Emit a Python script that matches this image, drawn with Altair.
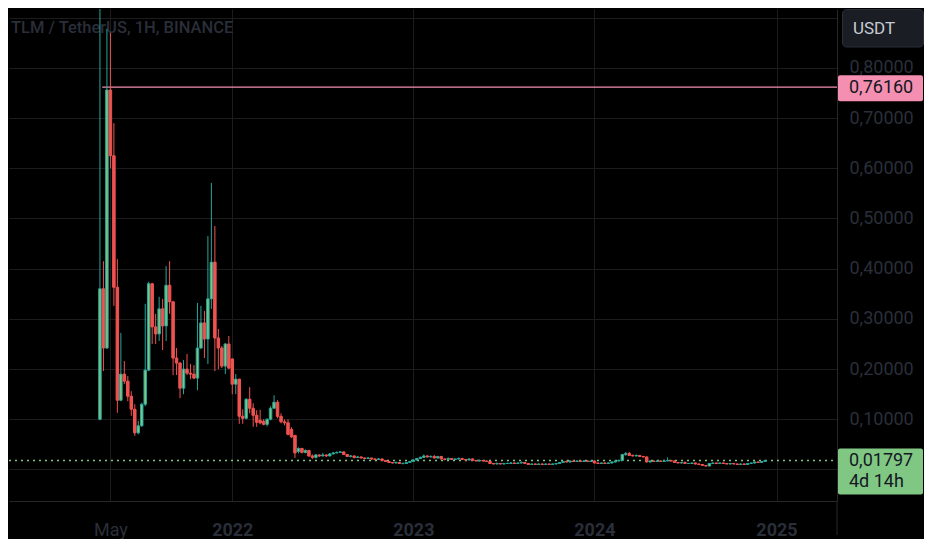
import altair as alt
import pandas as pd

# ---------------- data (weekly candles) ----------------
first_week = "2021-04-12"

opens = [
    .100, .360, .242, .756, .625, .363, .138, .190, .176, .146,
    .120, .073, .087, .130, .198, .370, .284, .270, .320, .286,
    .367, .334, .222, .212, .162, .200, .192, .190, .182, .242,
    .292, .260, .340, .413, .262, .242, .206, .250, .220, .170,
    .180, .106, .102, .140, .122, .108, .098, .096, .090, .100,
    .122, .134, .106, .095, .093, .080, .068, .036, .042, .034,
    .038, .027, .024, .029, .027, .029, .027, .031, .033, .034,
    .035, .030, .026, .027, .024, .025, .023, .022, .023, .021,
    .020, .021, .018, .016, .014, .013, .014, .012, .012, .014,
    .016, .019, .022, .024, .027, .025, .026, .023, .026, .021,
    .020, .022, .020, .021, .022, .020, .019, .021, .018, .017,
    .018, .017, .016, .012, .011, .012, .011, .012, .012, .013,
    .012, .013, .014, .012, .010, .011, .010, .011, .010, .011,
    .010, .011, .012, .014, .016, .015, .017, .016, .017, .016,
    .017, .016, .017, .013, .012, .013, .012, .013, .015, .017,
    .018, .030, .032, .028, .027, .028, .026, .025, .015, .017,
    .016, .017, .016, .017, .018, .017, .014, .013, .014, .012,
    .012, .013, .011, .010, .008, .007, .012, .013, .012, .013,
    .012, .011, .012, .011, .010, .011, .010, .012, .013, .015,
    .014, .016,
]
highs = [
    .980, .415, .878, .870, .690, .419, .272, .216, .186, .156,
    .130, .097, .133, .330, .374, .372, .310, .344, .340, .405,
    .415, .336, .242, .214, .218, .230, .210, .208, .332, .326,
    .316, .465, .571, .485, .280, .246, .252, .266, .222, .190,
    .180, .120, .142, .164, .132, .118, .119, .100, .102, .126,
    .148, .138, .112, .100, .100, .084, .068, .044, .043, .040,
    .039, .030, .031, .030, .033, .030, .033, .035, .036, .037,
    .036, .031, .029, .028, .027, .026, .024, .025, .023, .022,
    .023, .022, .019, .017, .015, .016, .015, .014, .015, .017,
    .020, .023, .026, .030, .028, .028, .029, .027, .027, .022,
    .024, .023, .022, .024, .023, .021, .022, .022, .019, .020,
    .019, .018, .017, .013, .014, .013, .013, .014, .015, .014,
    .014, .016, .015, .013, .012, .012, .012, .012, .012, .012,
    .012, .013, .015, .017, .018, .018, .018, .018, .018, .019,
    .018, .018, .018, .014, .014, .014, .014, .016, .018, .020,
    .031, .035, .035, .030, .030, .029, .027, .026, .018, .018,
    .018, .018, .018, .024, .019, .018, .015, .015, .016, .013,
    .014, .014, .012, .011, .009, .013, .014, .014, .014, .014,
    .013, .013, .013, .012, .012, .012, .013, .014, .016, .016,
    .017, .019,
]
lows = [
    .098, .196, .240, .600, .326, .113, .136, .170, .136, .107,
    .067, .070, .085, .126, .196, .250, .250, .256, .238, .256,
    .310, .188, .188, .142, .150, .188, .180, .180, .158, .240,
    .222, .210, .320, .196, .200, .202, .190, .200, .150, .150,
    .091, .091, .100, .112, .085, .085, .090, .088, .086, .098,
    .122, .102, .092, .088, .068, .063, .023, .032, .032, .032,
    .025, .021, .022, .025, .026, .025, .026, .030, .032, .033,
    .029, .025, .024, .022, .023, .022, .020, .021, .019, .018,
    .019, .017, .015, .013, .012, .012, .011, .010, .011, .013,
    .015, .018, .021, .023, .024, .024, .022, .022, .020, .018,
    .019, .019, .019, .020, .019, .018, .018, .017, .016, .016,
    .016, .015, .011, .010, .010, .010, .010, .011, .011, .011,
    .011, .012, .011, .009, .009, .009, .009, .009, .009, .009,
    .009, .010, .011, .013, .014, .014, .015, .015, .015, .015,
    .015, .015, .012, .011, .011, .011, .011, .012, .014, .016,
    .017, .027, .027, .026, .026, .025, .024, .014, .014, .015,
    .015, .015, .015, .016, .016, .013, .012, .012, .011, .011,
    .011, .010, .009, .007, .006, .006, .011, .011, .011, .011,
    .010, .010, .010, .009, .009, .009, .009, .011, .012, .013,
    .013, .015,
]
closes = [
    .360, .242, .756, .625, .363, .138, .190, .176, .146, .120,
    .073, .087, .130, .198, .370, .284, .270, .320, .286, .367,
    .334, .222, .212, .162, .200, .192, .190, .182, .242, .292,
    .260, .340, .413, .262, .242, .206, .250, .202, .170, .180,
    .106, .102, .140, .122, .108, .094, .093, .090, .100, .122,
    .134, .106, .095, .093, .070, .065, .033, .042, .034, .038,
    .027, .024, .029, .027, .029, .027, .031, .033, .034, .035,
    .030, .026, .027, .024, .025, .023, .022, .023, .021, .020,
    .021, .018, .016, .014, .013, .014, .012, .012, .014, .016,
    .019, .022, .024, .027, .025, .026, .023, .026, .021, .020,
    .022, .020, .021, .022, .020, .019, .021, .018, .017, .018,
    .017, .016, .012, .011, .012, .011, .012, .012, .013, .012,
    .013, .014, .012, .010, .011, .010, .011, .010, .011, .010,
    .011, .012, .014, .016, .015, .017, .016, .017, .016, .017,
    .016, .017, .013, .012, .013, .012, .013, .015, .017, .018,
    .030, .032, .028, .027, .028, .026, .025, .015, .017, .016,
    .017, .016, .017, .018, .017, .014, .013, .014, .012, .012,
    .013, .011, .010, .008, .007, .012, .013, .012, .013, .012,
    .011, .012, .011, .010, .011, .010, .012, .013, .015, .014,
    .016, .01797,
]

title_text = "TLM / TetherUS, 1H, BINANCE"
currency = "USDT"
level_price = 0.7616
level_start = "2021-04-16T14:00:00Z"
countdown = "4d 14h"
y_ticks = [0.0, 0.1, 0.2, 0.3, 0.4, 0.5, 0.6, 0.7, 0.8, 0.9]
x_ticks = [(2021, 5, 3), (2022, 1, 3), (2023, 1, 2), (2024, 1, 1), (2025, 1, 1)]

# ---------------- build ----------------
dates = pd.date_range(first_week, periods=len(opens), freq="7D")
df = pd.DataFrame({
    "date": dates.strftime("%Y-%m-%d"),
    "open": opens, "high": highs, "low": lows, "close": closes,
})
df["dir"] = ["up" if c >= o else "down" for o, c in zip(opens, closes)]

W, H = 828, 492
FONT = "Roboto, sans-serif"
BG = "#000000"
DIM = "#2a2e39"
UP_LINE, UP_FILL, DOWN = "#26a69a", "#81c784", "#ef5350"
PINK, GREEN = "#f48fb1", "#81c784"

x_dom = [int(pd.Timestamp("2020-10-21 05:30", tz="UTC").value // 10**6),
         int(pd.Timestamp("2025-04-22 12:00", tz="UTC").value // 10**6)]
xscale = alt.Scale(type="utc", domain=x_dom)
yscale = alt.Scale(domain=[-0.06275, 0.91733], nice=False, zero=False)

xaxis = alt.Axis(
    values=[alt.DateTime(year=y, month=m, date=d, utc=True) for (y, m, d) in x_ticks],
    labelExpr="utcmonth(datum.value) == 0 ? utcFormat(datum.value, '%Y') : utcFormat(datum.value, '%b')",
    labelFontWeight={"condition": {"test": "utcmonth(datum.value) == 0", "value": "bold"}, "value": "normal"},
    ticks=False, tickSize=0, labelPadding=29, labelBaseline="middle",
    labelFlush=False, labelOverlap=False, grid=True, title=None,
)
yaxis = alt.Axis(
    orient="right", values=y_ticks,
    labelExpr="datum.value < 0.05 || datum.value > 0.85 ? '' : replace(format(datum.value, '.5f'), '.', ',')",
    ticks=False, tickSize=0, labelPadding=12, labelBaseline="middle", labelAlign="left",
    labelFlush=False, labelOverlap=False, grid=True, title=None,
)

X = alt.X("date:T", scale=xscale, axis=xaxis)

base = alt.Chart(df)

title_layer = alt.Chart(pd.DataFrame({"t": [title_text]})).mark_text(
    align="left", baseline="alphabetic", font=FONT, fontSize=16.5, fontWeight=500, color=DIM
).encode(x=alt.value(2), y=alt.value(24), text="t:N")

lvl_df = pd.DataFrame({"start": [level_start], "price": [level_price]})
level_line = alt.Chart(lvl_df).mark_rule(color=PINK, strokeWidth=1.2).encode(
    x=alt.X("start:T", scale=xscale, axis=xaxis),
    x2=alt.value(W),
    y=alt.Y("price:Q", scale=yscale, axis=yaxis),
)

last_df = pd.DataFrame({"price": [closes[-1]], "cd": [countdown]})
last_line = alt.Chart(last_df).mark_rule(color=GREEN, strokeWidth=1.5, strokeDash=[2, 4]).encode(
    x=alt.value(0), x2=alt.value(W), y=alt.Y("price:Q", scale=yscale, axis=yaxis)
)

wicks = base.mark_rule(strokeWidth=1, clip=True).encode(
    x=X,
    y=alt.Y("low:Q", scale=yscale, axis=yaxis),
    y2="high:Q",
    color=alt.Color("dir:N", scale=alt.Scale(domain=["up", "down"], range=[UP_LINE, DOWN]), legend=None),
)
bodies = base.mark_bar(size=2.5, strokeWidth=1, clip=True).encode(
    x=X,
    y=alt.Y("open:Q", scale=yscale, axis=yaxis),
    y2="close:Q",
    fill=alt.Fill("dir:N", scale=alt.Scale(domain=["up", "down"], range=[UP_FILL, DOWN]), legend=None),
    stroke=alt.Stroke("dir:N", scale=alt.Scale(domain=["up", "down"], range=[UP_LINE, DOWN]), legend=None),
)

label_expr = "replace(format(datum.price, '.5f'), '.', ',')"
BOX_FS = 18

lvl_box = alt.Chart(lvl_df).mark_rect(fill=PINK, cornerRadius=2, yOffset=-12, y2Offset=14).encode(
    x=alt.value(829), x2=alt.value(914),
    y=alt.Y("price:Q", scale=yscale, axis=yaxis), y2="price:Q",
)
lvl_text = alt.Chart(lvl_df).transform_calculate(lab=label_expr).mark_text(
    align="left", baseline="middle", font=FONT, fontSize=BOX_FS, color="#131722", dy=1
).encode(x=alt.value(840), y=alt.Y("price:Q", scale=yscale, axis=yaxis), text="lab:N")

last_box = alt.Chart(last_df).mark_rect(fill=GREEN, cornerRadius=2, yOffset=-12, y2Offset=34).encode(
    x=alt.value(829), x2=alt.value(914),
    y=alt.Y("price:Q", scale=yscale, axis=yaxis), y2="price:Q",
)
last_text = alt.Chart(last_df).transform_calculate(lab=label_expr).mark_text(
    align="left", baseline="middle", font=FONT, fontSize=BOX_FS, color="#131722", dy=1
).encode(x=alt.value(840), y=alt.Y("price:Q", scale=yscale, axis=yaxis), text="lab:N")
cd_text = alt.Chart(last_df).mark_text(
    align="left", baseline="middle", font=FONT, fontSize=BOX_FS, color="#131722", dy=22
).encode(x=alt.value(840), y=alt.Y("price:Q", scale=yscale, axis=yaxis), text="cd:N")

cur_df = pd.DataFrame({"t": [currency]})
cur_box = alt.Chart(cur_df).mark_rect(fill="#1a1d24", stroke="#2a2e39", strokeWidth=1, cornerRadius=4).encode(
    x=alt.value(833.5), x2=alt.value(914.5), y=alt.value(0.5), y2=alt.value(38)
)
cur_text = alt.Chart(cur_df).mark_text(
    align="left", baseline="middle", font=FONT, fontSize=17, color="#c8cbd3"
).encode(x=alt.value(844), y=alt.value(20), text="t:N")

sep = alt.Chart(cur_df).mark_rule(color="#262626", strokeWidth=1).encode(
    x=alt.value(W), y=alt.value(H), y2=alt.value(526)
)

chart = alt.layer(
    title_layer, level_line, last_line, wicks, bodies,
    lvl_box, lvl_text, last_box, last_text, cd_text, cur_box, cur_text, sep,
).properties(
    width=W, height=H, padding={"left": 0, "top": 0, "right": 0, "bottom": 0},
    background=BG,
).configure_view(stroke=None).configure_axis(
    gridColor="#1c1c1c", gridWidth=1, domainColor="#262626", domainWidth=1,
    labelColor=DIM, labelFont=FONT, labelFontSize=18,
)

chart.save("out.html", embed_options={"renderer": "svg", "actions": False})
